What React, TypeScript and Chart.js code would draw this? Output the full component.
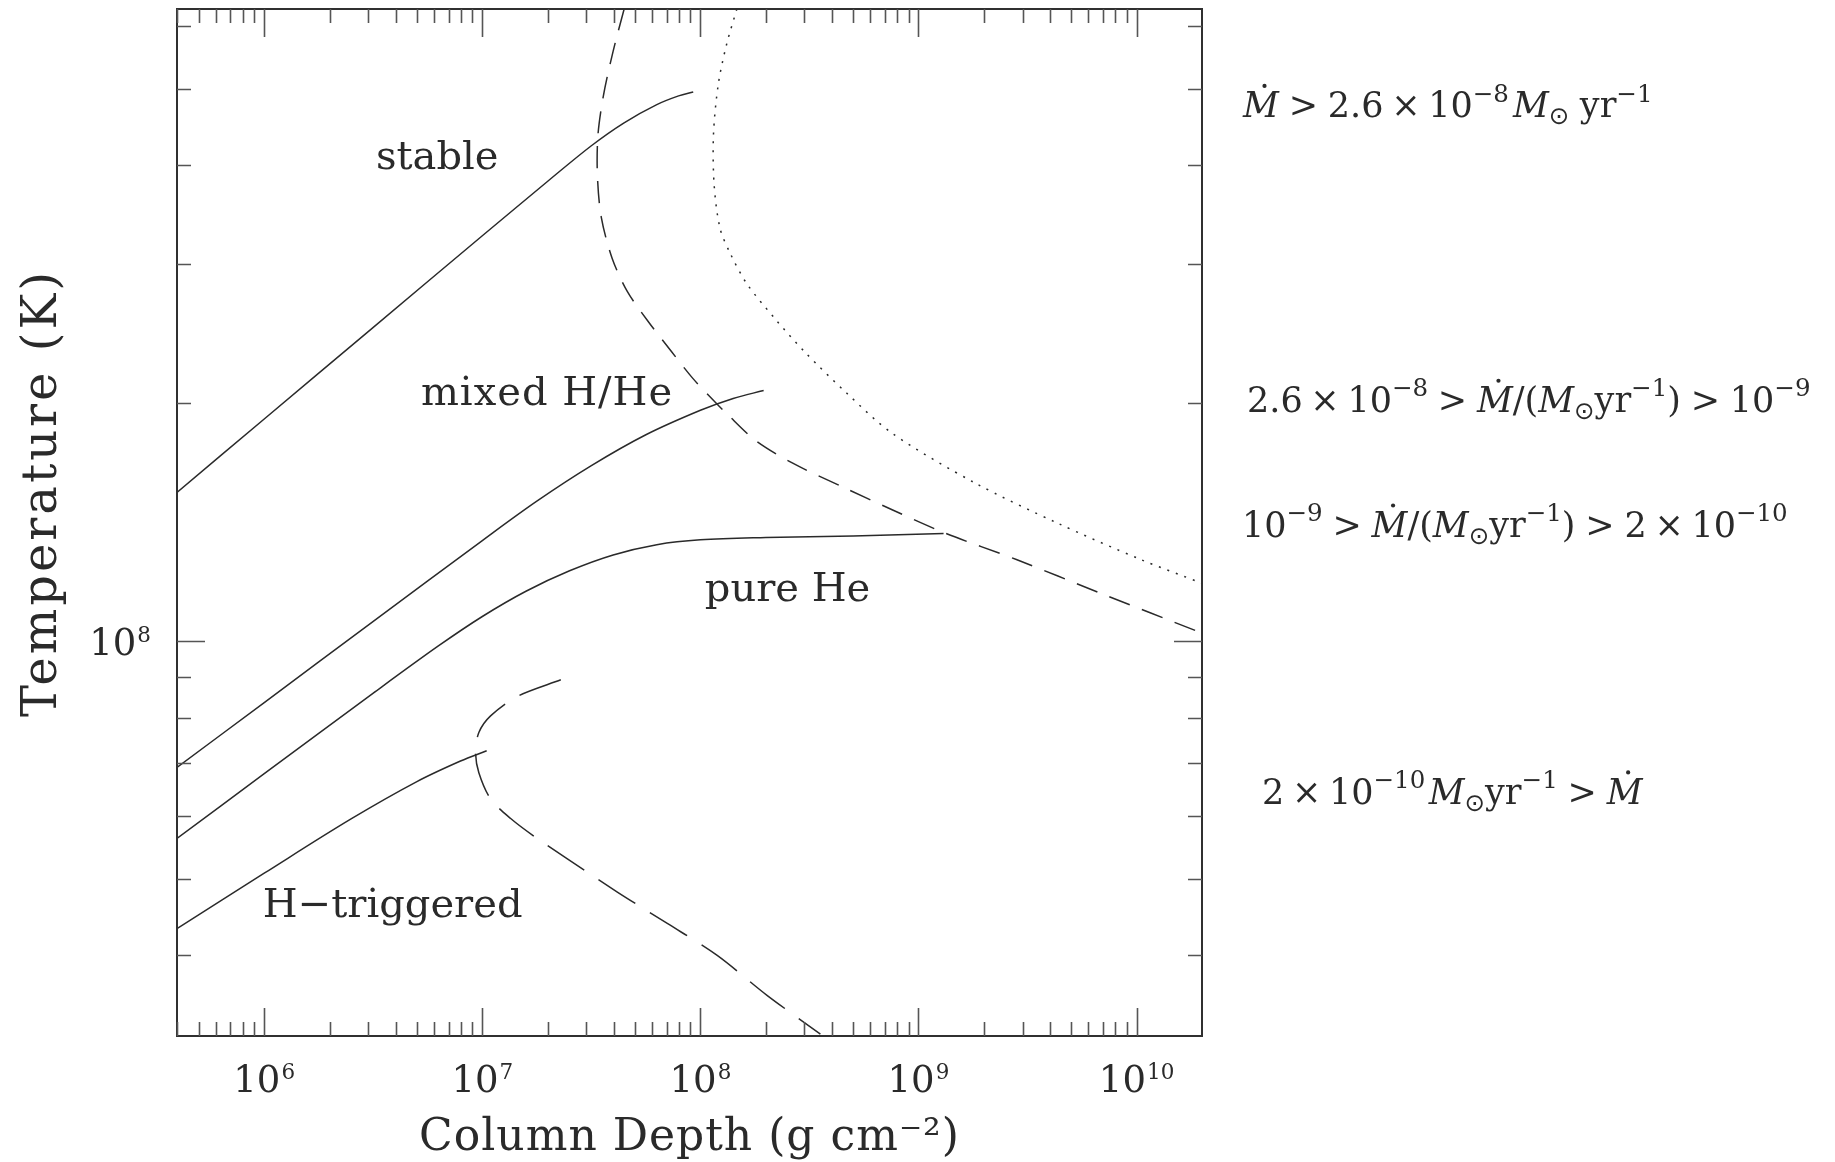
import { useEffect, useRef } from 'react';
import { Chart, registerables } from 'chart.js';

Chart.register(...registerables);

// Axis ranges (column depth in g cm^-2, temperature in K)
const depthRange = [3.981e5, 1.995e10];
const tempRange = [3.162e7, 6.31e8];

// Solid boundary: stable / mixed H/He
const stableDepth = [3.98e5, 1.0e6, 3.162e6, 1.0e7, 1.995e7, 3.162e7, 4.467e7, 6.31e7, 7.943e7, 9.268e7];
const stableTemp = [1.542e8, 1.91e8, 2.495e8, 3.258e8, 3.819e8, 4.236e8, 4.529e8, 4.775e8, 4.898e8, 4.955e8];

// Solid boundary (second from top)
const mixedDepth = [3.98e5, 1.0e6, 3.162e6, 1.0e7, 1.778e7, 3.162e7, 5.623e7, 1.0e8, 1.413e8, 1.95e8];
const mixedTemp = [6.918e7, 8.356e7, 1.059e8, 1.34e8, 1.503e8, 1.667e8, 1.824e8, 1.959e8, 2.028e8, 2.075e8];

// Solid boundary (third from top, pure He)
const pureDepth = [3.98e5, 1.0e6, 3.162e6, 6.31e6, 1.0e7, 1.585e7, 2.512e7, 3.981e7, 6.31e7, 1.0e8, 1.995e8, 5.012e8, 1.303e9];
const pureTemp = [5.623e7, 6.792e7, 8.59e7, 9.863e7, 1.074e8, 1.156e8, 1.227e8, 1.285e8, 1.324e8, 1.343e8, 1.352e8, 1.358e8, 1.368e8];

// Solid boundary (H-triggered)
const hTrigDepth = [3.98e5, 1.0e6, 2.512e6, 5.012e6, 7.943e6, 1.047e7];
const hTrigTemp = [4.325e7, 5.082e7, 5.957e7, 6.637e7, 7.047e7, 7.261e7];

// Upper dashed curve
const dashDepth = [4.47e7, 3.98e7, 3.59e7, 3.39e7, 3.37e7, 3.51e7, 3.94e7, 4.62e7, 5.75e7, 7.41e7, 9.23e7, 1.161e8, 1.318e8, 1.786e8, 2.65e8, 4.48e8, 7.57e8, 1.337e9, 2.81e9, 6.75e9, 2.0e10];
const dashTemp = [6.31e8, 5.58e8, 4.9e8, 4.37e8, 3.89e8, 3.44e8, 3.05e8, 2.77e8, 2.54e8, 2.32e8, 2.15e8, 2.01e8, 1.941e8, 1.795e8, 1.679e8, 1.567e8, 1.466e8, 1.368e8, 1.268e8, 1.151e8, 1.023e8];

// Dotted curve
const dotDepth = [1.469e8, 1.318e8, 1.208e8, 1.148e8, 1.156e8, 1.23e8, 1.374e8, 1.637e8, 2.22e8, 3.02e8, 4.68e8, 7.57e8, 1.816e9, 4.36e9, 1.045e10, 2.0e10];
const dotTemp = [6.31e8, 5.69e8, 5.07e8, 4.38e8, 3.78e8, 3.33e8, 3.09e8, 2.83e8, 2.55e8, 2.32e8, 2.06e8, 1.832e8, 1.585e8, 1.409e8, 1.268e8, 1.183e8];

// Lower dashed curve
const lowDepth = [2.29e7, 1.449e7, 1.091e7, 9.64e6, 9.31e6, 9.64e6, 1.091e7, 1.349e7, 1.726e7, 2.455e7, 4.16e7, 7.05e7, 1.194e8, 2.02e8, 3.55e8];
const lowTemp = [8.93e7, 8.51e7, 8.04e7, 7.66e7, 7.23e7, 6.81e7, 6.31e7, 5.96e7, 5.66e7, 5.3e7, 4.81e7, 4.39e7, 4.0e7, 3.56e7, 3.18e7];

// Region labels (anchored at data coordinates: centre x, baseline y)
const regionLabels = ['stable', 'mixed H/He', 'pure He', 'H\u2212triggered'];
const regionDepth = [6.21e6, 1.98e7, 2.51e8, 3.88e6];
const regionTemp = [3.96e8, 1.987e8, 1.122e8, 4.47e7];

// Accretion-rate annotations on the right
type Seg = { t: string; it?: boolean; sup?: boolean; sub?: boolean; dot?: boolean; gap?: number; sym?: boolean };
const SUN = '\u2299';
const annot1: Seg[] = [
  { t: 'M', it: true, dot: true },
  { t: '>', gap: 0.28 },
  { t: '2.6', gap: 0.28 },
  { t: '\u00d7', gap: 0.22 },
  { t: '10', gap: 0.22 },
  { t: '\u22128', sup: true },
  { t: 'M', it: true, gap: 0.12 },
  { t: SUN, sub: true, sym: true },
  { t: 'yr', gap: 0.3 },
  { t: '\u22121', sup: true },
];
const annot2: Seg[] = [
  { t: '2.6' },
  { t: '\u00d7', gap: 0.22 },
  { t: '10', gap: 0.22 },
  { t: '\u22128', sup: true },
  { t: '>', gap: 0.28 },
  { t: 'M', it: true, dot: true, gap: 0.28 },
  { t: '/' },
  { t: '(' },
  { t: 'M', it: true },
  { t: SUN, sub: true, sym: true },
  { t: 'yr' },
  { t: '\u22121', sup: true },
  { t: ')' },
  { t: '>', gap: 0.28 },
  { t: '10', gap: 0.28 },
  { t: '\u22129', sup: true },
];
const annot3: Seg[] = [
  { t: '10' },
  { t: '\u22129', sup: true },
  { t: '>', gap: 0.28 },
  { t: 'M', it: true, dot: true, gap: 0.28 },
  { t: '/' },
  { t: '(' },
  { t: 'M', it: true },
  { t: SUN, sub: true, sym: true },
  { t: 'yr' },
  { t: '\u22121', sup: true },
  { t: ')' },
  { t: '>', gap: 0.28 },
  { t: '2', gap: 0.28 },
  { t: '\u00d7', gap: 0.22 },
  { t: '10', gap: 0.22 },
  { t: '\u221210', sup: true },
];
const annot4: Seg[] = [
  { t: '2' },
  { t: '\u00d7', gap: 0.22 },
  { t: '10', gap: 0.22 },
  { t: '\u221210', sup: true },
  { t: 'M', it: true, gap: 0.1 },
  { t: SUN, sub: true, sym: true },
  { t: 'yr' },
  { t: '\u22121', sup: true },
  { t: '>', gap: 0.28 },
  { t: 'M', it: true, dot: true, gap: 0.28 },
];
const annotations = [annot1, annot2, annot3, annot4];
const annotTemp = [4.6e8, 1.948e8, 1.354e8, 6.22e7];
const annotIndent = [41, 45, 40, 60];

const xTitle = 'Column Depth (g cm\u207b\u00b2)';
const yTitle = 'Temperature (K)';

function powExp(v: number): number | null {
  const l = Math.log10(v);
  const r = Math.round(l);
  return Math.abs(l - r) > 1e-6 ? null : r;
}

const toPts = (xs: number[], ys: number[]) => xs.map((x, i) => ({ x, y: ys[i] }));

const SERIF = '"DejaVu Serif", serif';
const INK = '#2a2a2a';

function drawRich(ctx: CanvasRenderingContext2D, segs: Seg[], x: number, y: number, size: number) {
  let cx = x;
  ctx.textAlign = 'left';
  ctx.textBaseline = 'alphabetic';
  for (const s of segs) {
    cx += (s.gap ?? 0) * size;
    const fs = s.sup || s.sub ? size * 0.7 : size;
    const dy = s.sup ? -size * 0.45 : s.sub ? size * 0.2 : 0;
    const fam = s.sym ? '"DejaVu Sans", sans-serif' : SERIF;
    ctx.font = `${s.it ? 'italic ' : ''}${fs}px ${fam}`;
    ctx.fillText(s.t, cx, y + dy);
    const w = ctx.measureText(s.t).width;
    if (s.dot) {
      ctx.beginPath();
      ctx.arc(cx + w * 0.6, y - size * 0.9, size * 0.06, 0, Math.PI * 2);
      ctx.fill();
    }
    cx += w;
  }
}

// "10" with a raised exponent, drawn at a given anchor
function powerLabel(ctx: CanvasRenderingContext2D, exp: number, x: number, y: number, align: 'center' | 'right', size: number) {
  const sup = String(exp);
  ctx.textAlign = 'left';
  ctx.textBaseline = 'alphabetic';
  ctx.font = `${size}px ${SERIF}`;
  const wb = ctx.measureText('10').width;
  const ss = size * 0.58;
  ctx.font = `${ss}px ${SERIF}`;
  const ws = ctx.measureText(sup).width;
  const total = wb + ws + size * 0.03;
  const x0 = align === 'center' ? x - total / 2 : x - total;
  ctx.font = `${size}px ${SERIF}`;
  ctx.fillText('10', x0, y);
  ctx.font = `${ss}px ${SERIF}`;
  ctx.fillText(sup, x0 + wb + size * 0.03, y - size * 0.34);
}

const framePlugin = {
  id: 'pgplotFrame',
  afterDraw(chart: any) {
    const { ctx, chartArea: a, scales } = chart;
    const xs = scales.x;
    const ys = scales.y;
    ctx.save();
    // Frame
    ctx.strokeStyle = '#303030';
    ctx.lineWidth = 2;
    ctx.strokeRect(a.left, a.top, a.right - a.left, a.bottom - a.top);
    // Inward ticks
    ctx.strokeStyle = '#555555';
    ctx.lineWidth = 1.6;
    const MAJ = 28;
    const MIN = 14;
    const tickVals = (lo: number, hi: number) => {
      const out: { v: number; major: boolean }[] = [];
      for (let e = Math.floor(Math.log10(lo)); e <= Math.ceil(Math.log10(hi)); e++) {
        for (let m = 1; m <= 9; m++) {
          const v = m * Math.pow(10, e);
          if (v >= lo * 0.9999 && v <= hi * 1.0001) out.push({ v, major: m === 1 });
        }
      }
      return out;
    };
    ctx.beginPath();
    for (const t of tickVals(xs.min, xs.max)) {
      const px = Math.round(xs.getPixelForValue(t.v)) + 0.5;
      const len = t.major ? MAJ : MIN;
      ctx.moveTo(px, a.bottom);
      ctx.lineTo(px, a.bottom - len);
      ctx.moveTo(px, a.top);
      ctx.lineTo(px, a.top + len);
    }
    for (const t of tickVals(ys.min, ys.max)) {
      const py = Math.round(ys.getPixelForValue(t.v)) + 0.5;
      const len = t.major ? MAJ : MIN;
      ctx.moveTo(a.left, py);
      ctx.lineTo(a.left + len, py);
      ctx.moveTo(a.right, py);
      ctx.lineTo(a.right - len, py);
    }
    ctx.stroke();

    ctx.fillStyle = INK;
    // Tick labels from the scales' own ticks (powers of ten only)
    for (const t of xs.ticks) {
      const e = powExp(t.value);
      if (e === null) continue;
      powerLabel(ctx, e, xs.getPixelForValue(t.value), a.bottom + 56, 'center', 37);
    }
    for (const t of ys.ticks) {
      const e = powExp(t.value);
      if (e === null) continue;
      powerLabel(ctx, e, a.left - 26, ys.getPixelForValue(t.value) + 14, 'right', 37);
    }

    // Region labels
    ctx.font = `40px ${SERIF}`;
    ctx.textAlign = 'center';
    ctx.textBaseline = 'alphabetic';
    regionLabels.forEach((lab, i) => {
      (ctx as any).letterSpacing = i === 1 ? '1px' : '0px';
      ctx.fillText(lab, xs.getPixelForValue(regionDepth[i]), ys.getPixelForValue(regionTemp[i]));
    });

    // Axis titles
    (ctx as any).letterSpacing = '1px';
    ctx.font = `44px ${SERIF}`;
    ctx.textAlign = 'center';
    ctx.fillText(xTitle, (a.left + a.right) / 2, 1150);
    ctx.save();
    ctx.translate(56, 493);
    ctx.rotate(-Math.PI / 2);
    (ctx as any).letterSpacing = '3px';
    ctx.font = `48px ${SERIF}`;
    ctx.fillText(yTitle, 0, 0);
    ctx.restore();
    (ctx as any).letterSpacing = '0px';

    // Right-hand annotations
    annotations.forEach((segs, i) => {
      drawRich(ctx, segs, a.right + annotIndent[i], ys.getPixelForValue(annotTemp[i]), 35);
    });
    ctx.restore();
  },
};

export default function App() {
  const ref = useRef<HTMLCanvasElement | null>(null);
  useEffect(() => {
    if (!ref.current) return;
    const line = (xs: number[], ys: number[], dash: number[] = [], tension = 0.3) => ({
      data: toPts(xs, ys),
      showLine: true,
      borderColor: INK,
      borderWidth: 1.5,
      borderDash: dash,
      pointRadius: 0,
      pointHoverRadius: 0,
      tension,
      fill: false,
    });
    const fitX = (s: any) => {
      s.height = 126;
      s.paddingLeft = 0;
      s.paddingRight = 0;
      s.paddingTop = 0;
      s.paddingBottom = 0;
    };
    const fitY = (s: any) => {
      s.width = 177;
      s.paddingLeft = 0;
      s.paddingRight = 0;
      s.paddingTop = 0;
      s.paddingBottom = 0;
    };
    const chart = new Chart(ref.current, {
      type: 'scatter',
      data: {
        datasets: [
          line(stableDepth, stableTemp, [], 0.35),
          line(mixedDepth, mixedTemp, [], 0.35),
          line(pureDepth, pureTemp, [], 0.35),
          line(hTrigDepth, hTrigTemp, [], 0.35),
          line(dashDepth, dashTemp, [22, 13], 0.3),
          line(dotDepth, dotTemp, [2, 7], 0.3),
          line(lowDepth, lowTemp, [44, 17], 0.3),
        ] as any,
      },
      options: {
        animation: false,
        responsive: false,
        devicePixelRatio: 1,
        events: [],
        layout: { padding: { left: 0, right: 633, top: 9, bottom: 0 } },
        plugins: { legend: { display: false }, tooltip: { enabled: false } },
        scales: {
          x: {
            type: 'logarithmic',
            min: depthRange[0],
            max: depthRange[1],
            grid: { display: false },
            border: { display: false },
            afterFit: fitX,
            ticks: { display: false, autoSkip: false },
          },
          y: {
            type: 'logarithmic',
            min: tempRange[0],
            max: tempRange[1],
            grid: { display: false },
            border: { display: false },
            afterFit: fitY,
            ticks: { display: false, autoSkip: false },
          },
        },
      } as any,
      plugins: [framePlugin],
    });
    return () => chart.destroy();
  }, []);
  return (
    <div style={{ position: 'absolute', left: 0, top: 0, width: 1835, height: 1162, background: '#fff' }}>
      <canvas ref={ref} width={1835} height={1162} style={{ display: 'block', width: 1835, height: 1162 }} />
    </div>
  );
}
